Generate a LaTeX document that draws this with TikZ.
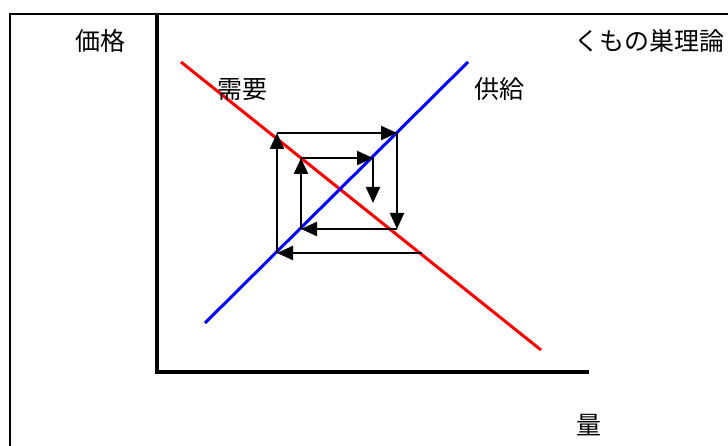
\documentclass[tikz,border=0pt]{standalone}
\usepackage{fontspec}
\newfontfamily\cjk{Noto Sans CJK JP}
\usetikzlibrary{arrows.meta}
\tikzset{
  lbl/.style={font=\cjk\fontsize{25}{25}\selectfont, inner sep=0pt, anchor=center},
  frameline/.style={line width=2pt, black},
  axisline/.style={line width=4pt, black},
  demand/.style={line width=3pt, red},
  supply/.style={line width=3pt, blue},
  cob/.style={line width=2.2pt, black, -{Triangle[length=16pt,width=14pt]}}
}
\begin{document}
\begin{tikzpicture}[x=1pt,y=-1pt]
\useasboundingbox (0,0) rectangle (728,446);
% frame (top and left edges)
\coordinate (fTL) at (10,14);
\coordinate (fTR) at (728,14);
\coordinate (fBL) at (10,446);
\draw[frameline] (fBL) -- (fTL) -- (fTR);
% axes
\coordinate (yTop) at (157,14);
\coordinate (org) at (157,372);
\coordinate (xEnd) at (589,372);
\draw[axisline] (yTop) -- (org) -- (xEnd);
% curves
\coordinate (d1) at (181,62);
\coordinate (d2) at (541,350);
\coordinate (s1) at (205,323);
\coordinate (s2) at (468,62);
\draw[demand] (d1) -- (d2);
\draw[supply] (s1) -- (s2);
% cobweb points
\coordinate (p0) at (422,253);
\coordinate (p1) at (277,253);
\coordinate (p2) at (277,133);
\coordinate (p3) at (397,133);
\coordinate (p4) at (397,229);
\coordinate (p5) at (301,229);
\coordinate (p6) at (301,158);
\coordinate (p7) at (373,158);
\coordinate (p8) at (373,203);
\draw[cob] (p0) -- (p1);
\draw[cob] (p1) -- (p2);
\draw[cob] (p2) -- (p3);
\draw[cob] (p3) -- (p4);
\draw[cob] (p4) -- (p5);
\draw[cob] (p5) -- (p6);
\draw[cob] (p6) -- (p7);
\draw[cob] (p7) -- (p8);
% labels
\node[lbl] (price) at (100,41) {価格};
\node[lbl, anchor=east] (title) at (725,41) {くもの巣理論};
\node[lbl] (dem) at (242,90) {需要};
\node[lbl] (sup) at (499,89) {供給};
\node[lbl] (qty) at (589,425) {量};
\end{tikzpicture}
\end{document}
